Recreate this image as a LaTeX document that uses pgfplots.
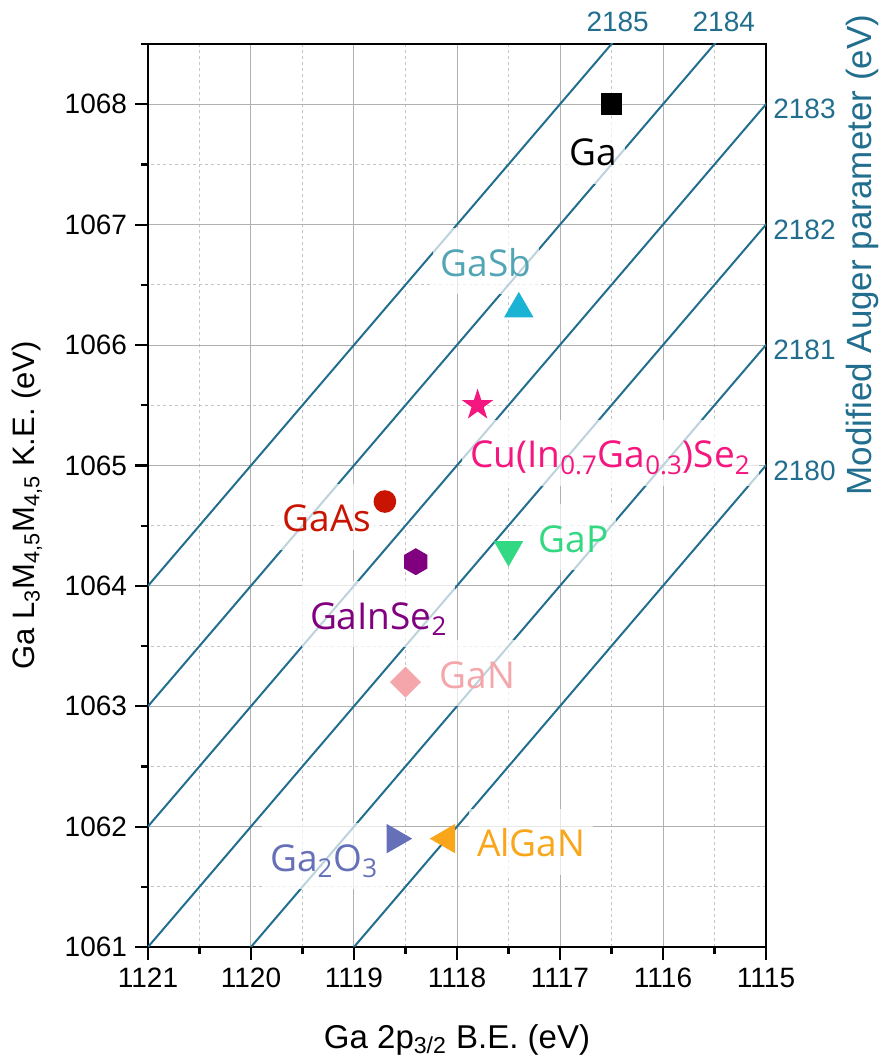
\documentclass[border=0pt]{standalone}
\usepackage{fontspec}
\setmainfont{Liberation Sans}
\newfontfamily\labfont{Open Sans}
\usepackage{pgfplots}
\pgfplotsset{compat=1.18}

\definecolor{lineblue}{HTML}{216E8E}
\definecolor{cGaSbT}{HTML}{52A5B5}
\definecolor{cGaSb}{HTML}{1AB3D4}
\definecolor{cCIGS}{HTML}{F5167F}
\definecolor{cGaAs}{HTML}{C81400}
\definecolor{cGaInSe}{HTML}{800080}
\definecolor{cGaP}{HTML}{33D882}
\definecolor{cGaN}{HTML}{F4A6AA}
\definecolor{cGaO}{HTML}{6670B8}
\definecolor{cAlGaN}{HTML}{F9A61A}
\definecolor{gmaj}{HTML}{B0B0B0}
\definecolor{gmin}{HTML}{C4C4C4}

\pgfdeclareplotmark{hexagon*}{%
  \pgfpathmoveto{\pgfpointpolar{90}{\pgfplotmarksize}}%
  \pgfpathlineto{\pgfpointpolar{150}{\pgfplotmarksize}}%
  \pgfpathlineto{\pgfpointpolar{210}{\pgfplotmarksize}}%
  \pgfpathlineto{\pgfpointpolar{270}{\pgfplotmarksize}}%
  \pgfpathlineto{\pgfpointpolar{330}{\pgfplotmarksize}}%
  \pgfpathlineto{\pgfpointpolar{30}{\pgfplotmarksize}}%
  \pgfpathclose
  \pgfusepathqfillstroke
}
\pgfdeclareplotmark{fstar}{%
  \pgfpathmoveto{\pgfpointpolar{90}{\pgfplotmarksize}}%
  \pgfpathlineto{\pgfpointpolar{126}{0.382\pgfplotmarksize}}%
  \pgfpathlineto{\pgfpointpolar{162}{\pgfplotmarksize}}%
  \pgfpathlineto{\pgfpointpolar{198}{0.382\pgfplotmarksize}}%
  \pgfpathlineto{\pgfpointpolar{234}{\pgfplotmarksize}}%
  \pgfpathlineto{\pgfpointpolar{270}{0.382\pgfplotmarksize}}%
  \pgfpathlineto{\pgfpointpolar{306}{\pgfplotmarksize}}%
  \pgfpathlineto{\pgfpointpolar{342}{0.382\pgfplotmarksize}}%
  \pgfpathlineto{\pgfpointpolar{18}{\pgfplotmarksize}}%
  \pgfpathlineto{\pgfpointpolar{54}{0.382\pgfplotmarksize}}%
  \pgfpathclose
  \pgfusepathqfillstroke
}

\tikzset{dlab/.style={font=\labfont\fontsize{18.5}{22}\selectfont, anchor=base,
  fill=white, fill opacity=0.7, text opacity=1, inner xsep=4pt, inner ysep=3pt,
  text height=21pt, text depth=6pt},
  alab/.style={lineblue, font=\fontsize{14}{16}\selectfont, inner sep=0pt}}

\begin{document}
\begin{tikzpicture}
\begin{axis}[name=ax, scale only axis, width=309pt, height=451.5pt,
  clip mode=individual,
  x dir=reverse, xmin=1115, xmax=1121, ymin=1061, ymax=1068.5,
  xtick={1115,1116,...,1121}, ytick={1061,1062,...,1068},
  minor xtick={1115.5,1116.5,...,1120.5},
  minor ytick={1061.5,1062.5,...,1068},
  tick pos=left,
  xmajorgrids=true, ymajorgrids=true, xminorgrids=true, yminorgrids=true,
  major grid style={gmaj, line width=0.5pt},
  minor grid style={gmin, line width=0.5pt, dash pattern=on 1.5pt off 1.5pt},
  every axis/.append style={line width=1.3pt},
  major tick style={black, line width=1.1pt},
  minor tick style={black, line width=1.1pt},
  tick align=outside, major tick length=6.5pt, minor tick length=3.5pt,
  /pgf/number format/assume math mode=true,
  /pgf/number format/1000 sep={},
  ticklabel style={font=\fontsize{14}{16}\selectfont},
]
% constant modified Auger parameter lines (KE + BE = const)
\addplot[lineblue, line width=1pt] coordinates {(1121,1064) (1114,1071)};
\addplot[lineblue, line width=1pt] coordinates {(1121,1063) (1114,1070)};
\addplot[lineblue, line width=1pt] coordinates {(1121,1062) (1114,1069)};
\addplot[lineblue, line width=1pt] coordinates {(1121,1061) (1114,1068)};
\addplot[lineblue, line width=1pt] coordinates {(1121,1060) (1114,1067)};
\addplot[lineblue, line width=1pt] coordinates {(1121,1059) (1114,1066)};

% labels
\node[dlab, text=black] at (axis cs:1116.68,1067.49) {Ga};
\node[dlab, text=cGaSbT] at (axis cs:1117.72,1066.57) {GaSb};
\node[dlab, text=cCIGS] at (axis cs:1116.51,1064.98) {Cu(In\textsubscript{0.7}Ga\textsubscript{0.3})Se\textsubscript{2}};
\node[dlab, text=cGaAs] at (axis cs:1119.26,1064.45) {GaAs};
\node[dlab, text=cGaInSe] at (axis cs:1118.76,1063.64) {GaInSe\textsubscript{2}};
\node[dlab, text=cGaP] at (axis cs:1116.87,1064.28) {GaP};
\node[dlab, text=cGaN] at (axis cs:1117.80,1063.15) {GaN};
\node[dlab, text=cGaO] at (axis cs:1119.29,1061.63) {Ga\textsubscript{2}O\textsubscript{3}};
\node[dlab, text=cAlGaN] at (axis cs:1117.28,1061.75) {AlGaN};

% data points
\addplot[only marks, mark=square*, mark size=4.75pt, black] coordinates {(1116.5,1068.0)};
\addplot[only marks, mark=triangle*, mark size=7.2pt, cGaSb] coordinates {(1117.4,1066.3)};
\addplot[only marks, mark=fstar, mark size=6.2pt, cCIGS] coordinates {(1117.8,1065.5)};
\addplot[only marks, mark=*, mark size=5pt, cGaAs] coordinates {(1118.7,1064.7)};
\addplot[only marks, mark=hexagon*, mark size=6pt, cGaInSe] coordinates {(1118.4,1064.2)};
\addplot[only marks, mark=triangle*, mark size=7.2pt, mark options={rotate=180}, cGaP] coordinates {(1117.5,1064.3)};
\addplot[only marks, mark=square*, mark size=4.8pt, mark options={rotate=45}, cGaN] coordinates {(1118.5,1063.2)};
\addplot[only marks, mark=triangle*, mark size=7.2pt, mark options={rotate=-90}, cGaO] coordinates {(1118.6,1061.9)};
\addplot[only marks, mark=triangle*, mark size=7.2pt, mark options={rotate=90}, cAlGaN] coordinates {(1118.1,1061.9)};

% modified Auger parameter labels
\node[alab, anchor=base] at ([yshift=6pt]axis cs:1116.44,1068.5) {2185};
\node[alab, anchor=base] at ([yshift=6pt]axis cs:1115.41,1068.5) {2184};
\node[alab, anchor=west] at ([xshift=3pt,yshift=-2.5pt]axis cs:1115,1068) {2183};
\node[alab, anchor=west] at ([xshift=3pt,yshift=-2.5pt]axis cs:1115,1067) {2182};
\node[alab, anchor=west] at ([xshift=3pt,yshift=-2.5pt]axis cs:1115,1066) {2181};
\node[alab, anchor=west] at ([xshift=3pt,yshift=-2.5pt]axis cs:1115,1065) {2180};
\end{axis}

\node[font=\fontsize{16.5}{19}\selectfont] at ([yshift=-46.5pt]ax.south) {Ga 2p\textsubscript{3/2} B.E. (eV)};
\node[font=\fontsize{15.5}{18}\selectfont, rotate=90] at ([xshift=-60.5pt,yshift=-5pt]ax.west) {Ga L\textsubscript{3}M\textsubscript{4,5}M\textsubscript{4,5} K.E. (eV)};
\node[font=\fontsize{17.5}{20}\selectfont, rotate=90, text=lineblue] at ([xshift=48pt,yshift=-105.5pt]ax.north east) {Modified Auger parameter (eV)};

\pgfresetboundingbox
\path ([xshift=-74pt,yshift=-58.5pt]ax.south west) rectangle ([xshift=59pt,yshift=22pt]ax.north east);
\end{tikzpicture}
\end{document}
